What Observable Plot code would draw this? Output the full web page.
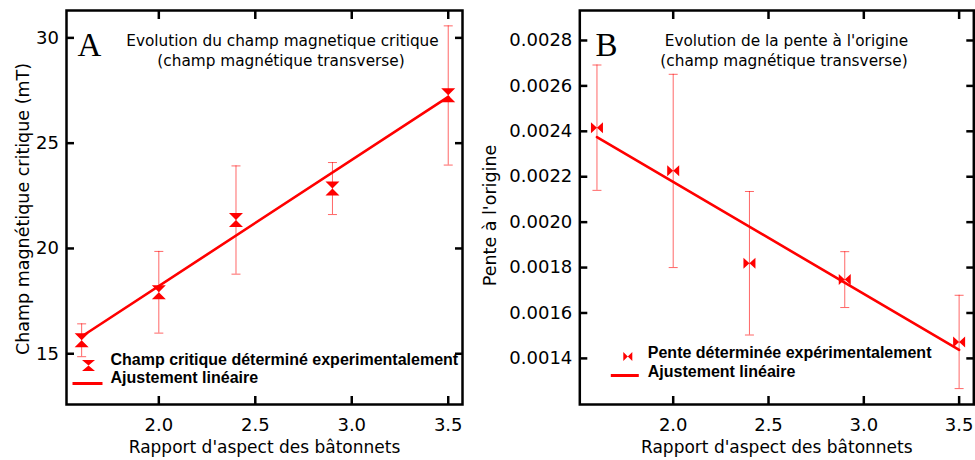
<!DOCTYPE html>
<html><head><meta charset="utf-8">
<script src="https://cdn.jsdelivr.net/npm/d3@7"></script>
<script src="https://cdn.jsdelivr.net/npm/@observablehq/plot@0.6"></script>
<style>
html,body{margin:0;padding:0;background:#fff;}
#chart{display:flex;width:975px;height:460px;}
#chart svg{display:block;flex:none;}
</style></head><body><div id="chart"></div>
<script>
// ---- data ----
const aspect = [1.6, 2.0, 2.4, 2.9, 3.5];
const champ = [15.64, 17.92, 21.35, 22.85, 27.27];
const champLo = [14.86, 15.98, 18.78, 21.61, 23.96];
const champHi = [16.42, 19.86, 23.92, 24.08, 30.57];
const pente = [0.002416, 0.002226, 0.001819, 0.001747, 0.001472];
const penteLo = [0.00214, 0.0018, 0.001503, 0.001624, 0.001267];
const penteHi = [0.002692, 0.002651, 0.002135, 0.00187, 0.001678];
const fitX = [1.6, 3.5];
const fitChamp = [15.82, 27.2];
const fitPente = [0.002374, 0.001438];
const xTicks = [2.0, 2.5, 3.0, 3.5];
const yTicksA = [15, 20, 25, 30];
const yTicksB = [0.0014, 0.0016, 0.0018, 0.0020, 0.0022, 0.0024, 0.0026, 0.0028];
const xLabel = "Rapport d'aspect des bâtonnets";
const yLabelA = "Champ magnétique critique (mT)";
const yLabelB = "Pente à l'origine";
const titleA = ["Evolution du champ magnetique critique", "(champ magnétique transverse)"];
const titleB = ["Evolution de la pente à l'origine", "(champ magnétique transverse)"];
const legendA = ["Champ critique déterminé experimentalement", "Ajustement linéaire"];
const legendB = ["Pente déterminée expérimentalement", "Ajustement linéaire"];

// ---- symbols ----
const hourglass = (w, h) => ({draw(c) { c.moveTo(-w, -h); c.lineTo(w, -h); c.lineTo(-w, h); c.lineTo(w, h); c.closePath(); }});
const bowtie = (w, h) => ({draw(c) { c.moveTo(-w, -h); c.lineTo(w, h); c.lineTo(w, -h); c.lineTo(-w, h); c.closePath(); }});
const hseg = (w) => ({draw(c) { c.moveTo(-w, 0); c.lineTo(w, 0); }});

const RED = "#ff0000";
const SANS = "DejaVu Sans";
const BOLD = "Liberation Sans";

function panel(cfg) {
  const pts = aspect.map((x, i) => ({x, y: cfg.y[i], lo: cfg.lo[i], hi: cfg.hi[i]}));
  const fit = fitX.map((x, i) => ({x, y: cfg.fit[i]}));
  const tk = {strokeWidth: 2.5, fill: "none", label: null};
  return Plot.plot({
    width: cfg.width, height: 460,
    marginLeft: cfg.ml, marginRight: cfg.mr, marginTop: 10, marginBottom: 56,
    style: {fontFamily: SANS, color: "black", background: "white", overflow: "visible"},
    x: {domain: cfg.xdom},
    y: {domain: cfg.ydom},
    marks: [
      Plot.ruleX(pts, {x: "x", y1: "lo", y2: "hi", stroke: RED, strokeOpacity: 0.6, strokeWidth: 1}),
      Plot.dot(pts, {x: "x", y: "lo", symbol: hseg(4.5), stroke: RED, strokeOpacity: 0.6, strokeWidth: 1, fill: "none"}),
      Plot.dot(pts, {x: "x", y: "hi", symbol: hseg(4.5), stroke: RED, strokeOpacity: 0.6, strokeWidth: 1, fill: "none"}),
      Plot.line(fit, {x: "x", y: "y", stroke: RED, strokeWidth: 2.6}),
      Plot.dot(pts, {x: "x", y: "y", symbol: cfg.sym, fill: RED, stroke: "none"}),
      Plot.frame({stroke: "black", strokeWidth: 2.5}),
      Plot.axisY(cfg.yticks, {anchor: "left", tickSize: 8, dx: 8, ...tk}),
      Plot.axisY(cfg.yticks, {anchor: "right", tickSize: 8, dx: -8, ...tk}),
      Plot.axisX(xTicks, {anchor: "top", tickSize: 8, dy: 8, ...tk}),
      Plot.axisX(xTicks, {anchor: "bottom", tickSize: 8, dy: -8, ...tk}),
      Plot.axisY(cfg.yticks, {anchor: "left", tickSize: 0, tickPadding: 7.5, fontSize: 18, tickFormat: cfg.yfmt, label: null}),
      Plot.axisX(xTicks, {anchor: "bottom", tickSize: 0, tickPadding: 14, fontSize: 18, tickFormat: d3.format(".1f"), label: null}),
      Plot.text([xLabel], {text: d => d, frameAnchor: "bottom", dy: 48, fontSize: 17}),
      Plot.text([cfg.ylabel], {text: d => d, frameAnchor: "left", textAnchor: "middle", rotate: -90, dx: cfg.ylx, dy: cfg.yly, fontSize: 17.5}),
      Plot.text([cfg.letter], {text: d => d, frameAnchor: "top-left", textAnchor: "start", dx: cfg.letterDx, dy: 22.5, fontFamily: "Liberation Serif", fontSize: 33}),
      Plot.text([cfg.title[0]], {text: d => d, frameAnchor: "top", dx: cfg.t1dx, dy: 25, fontSize: 15.3}),
      Plot.text([cfg.title[1]], {text: d => d, frameAnchor: "top", dx: cfg.t2dx, dy: 45, fontSize: 15.3}),
      Plot.dot([0], {frameAnchor: "bottom-left", dx: cfg.lg.mx, dy: cfg.lg.my, symbol: cfg.lsym, fill: RED, stroke: "none"}),
      Plot.text([cfg.legend[0]], {text: d => d, frameAnchor: "bottom-left", textAnchor: "start", dx: cfg.lg.tx, dy: cfg.lg.t1y, fontFamily: BOLD, fontWeight: "bold", fontSize: 16}),
      Plot.dot([0], {frameAnchor: "bottom-left", dx: cfg.lg.lx, dy: cfg.lg.ly, symbol: hseg(cfg.lg.lw), stroke: RED, strokeWidth: 3, fill: "none"}),
      Plot.text([cfg.legend[1]], {text: d => d, frameAnchor: "bottom-left", textAnchor: "start", dx: cfg.lg.tx, dy: cfg.lg.t2y, fontFamily: BOLD, fontWeight: "bold", fontSize: 16})
    ]
  });
}

const A = panel({
  width: 480, ml: 66, mr: 18,
  xdom: [1.5215, 3.574], ydom: [12.59, 31.3],
  y: champ, lo: champLo, hi: champHi, fit: fitChamp,
  yticks: yTicksA, yfmt: d3.format("d"),
  sym: hourglass(7, 7), lsym: hourglass(6.5, 5.5),
  ylabel: yLabelA, ylx: -43.5, yly: 1.5,
  letter: "A", letterDx: 11,
  title: titleA, t1dx: 18, t2dx: 16.5,
  legend: legendA,
  lg: {mx: 22, my: -39, tx: 44, t1y: -40, lx: 21, ly: -21, lw: 15, t2y: -21.5}
});
const B = panel({
  width: 495, ml: 99.3, mr: 1.7,
  xdom: [1.51, 3.577], ydom: [0.001197, 0.002932],
  y: pente, lo: penteLo, hi: penteHi, fit: fitPente,
  yticks: yTicksB, yfmt: d3.format(".4f"),
  sym: bowtie(6, 5.5), lsym: bowtie(4.5, 4.5),
  ylabel: yLabelB, ylx: -89, yly: 8,
  letter: "B", letterDx: 15.7,
  title: titleB, t1dx: 9.7, t2dx: 7.2,
  legend: legendB,
  lg: {mx: 48, my: -48, tx: 68, t1y: -47, lx: 45, ly: -29, lw: 14, t2y: -27.5}
});
document.getElementById("chart").append(A, B);
</script></body></html>
